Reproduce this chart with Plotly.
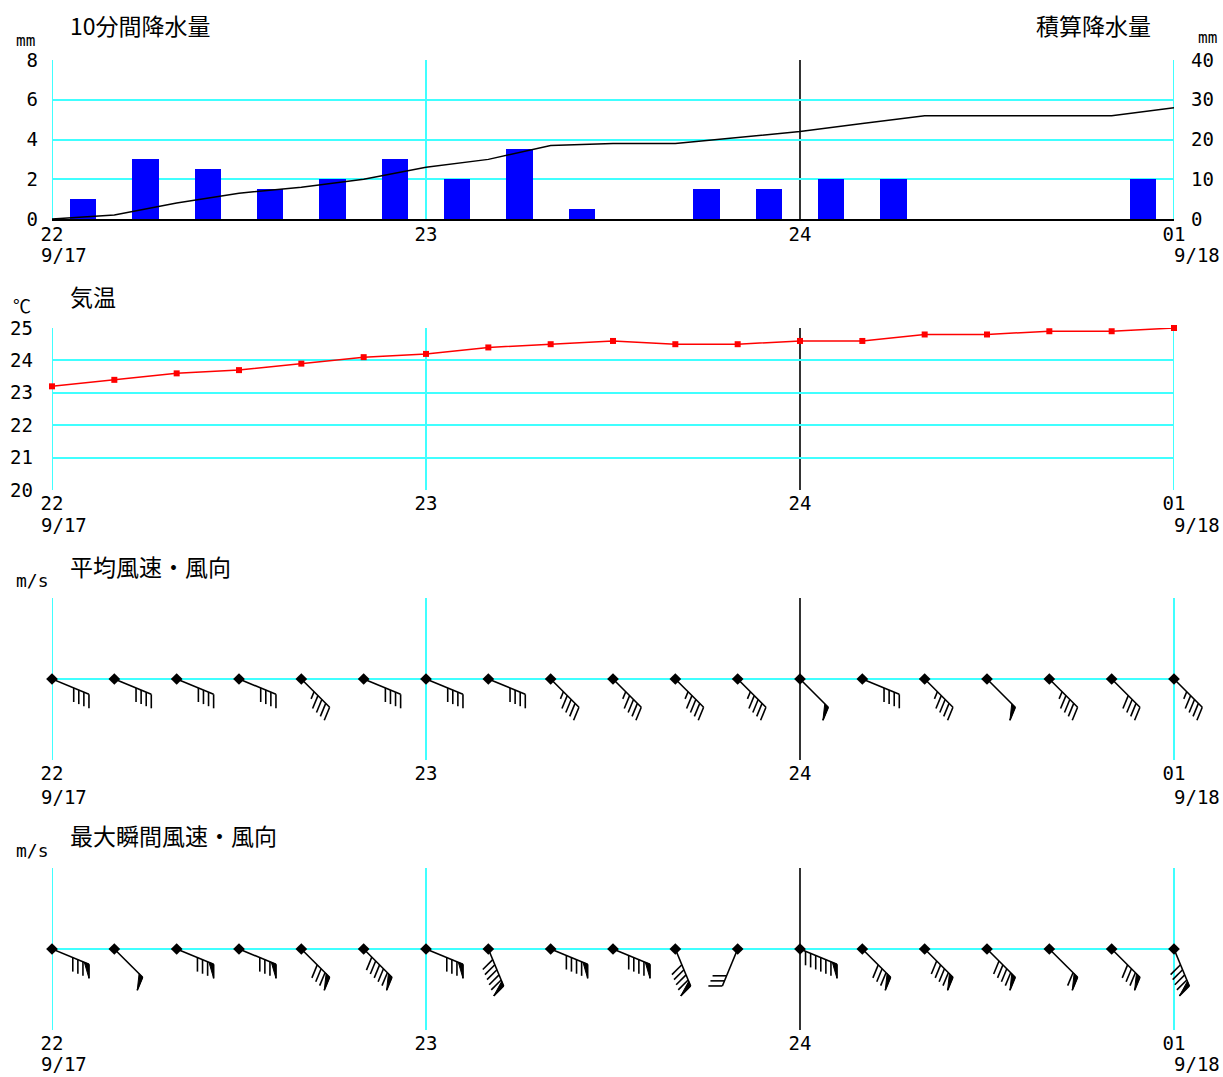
import math
import plotly.graph_objects as go

# ---------------- data ----------------
time_minutes = [0, 10, 20, 30, 40, 50, 60, 70, 80, 90, 100, 110, 120, 130, 140, 150, 160, 170, 180]
x_tick_vals = [0, 60, 120, 180]
x_tick_text = ["22", "23", "24", "01"]
date_start = "9/17"
date_end = "9/18"

rain_interval_start = [0, 10, 20, 30, 40, 50, 60, 70, 80, 90, 100, 110, 120, 130, 140, 150, 160, 170]
rain_interval_end = [10, 20, 30, 40, 50, 60, 70, 80, 90, 100, 110, 120, 130, 140, 150, 160, 170, 180]
rain_10min = [1.0, 3.0, 2.5, 1.5, 2.0, 3.0, 2.0, 3.5, 0.5, 0.0, 1.5, 1.5, 2.0, 2.0, 0.0, 0.0, 0.0, 2.0]
rain_cumulative = [0, 1, 4, 6.5, 8, 10, 13, 15, 18.5, 19, 19, 20.5, 22, 24, 26, 26, 26, 26, 28]
rain_ticks = [0, 2, 4, 6, 8]
cum_ticks = [0, 10, 20, 30, 40]

temperature = [23.2, 23.4, 23.6, 23.7, 23.9, 24.1, 24.2, 24.4, 24.5, 24.6,
               24.5, 24.5, 24.6, 24.6, 24.8, 24.8, 24.9, 24.9, 25.0]
temp_ticks = [20, 21, 22, 23, 24, 25]

mean_dir = ["ESE", "ESE", "ESE", "ESE", "SE", "ESE", "ESE", "ESE", "SE", "SE",
            "SE", "SE", "SE", "ESE", "SE", "SE", "SE", "SE", "SE"]
mean_speed = [8, 8, 8, 8, 9, 8, 8, 8, 9, 9, 9, 9, 10, 8, 9, 10, 9, 8, 9]
gust_dir = ["ESE", "SE", "ESE", "ESE", "SE", "SE", "ESE", "SSE", "ESE", "ESE",
            "SSE", "SSW", "ESE", "SE", "SE", "SE", "SE", "SE", "SSE"]
gust_speed = [16, 10, 16, 16, 16, 20, 16, 20, 18, 18, 18, 6, 22, 16, 18, 18, 12, 16, 18]

COMPASS = {"N": 0, "NNE": 22.5, "NE": 45, "ENE": 67.5, "E": 90, "ESE": 112.5, "SE": 135,
           "SSE": 157.5, "S": 180, "SSW": 202.5, "SW": 225, "WSW": 247.5, "W": 270,
           "WNW": 292.5, "NW": 315, "NNW": 337.5}

# barb coding (m/s): one flag for 10 m/s or more, long feather 2 m/s, short feather 1 m/s
FLAG_VALUE = 10
LONG_VALUE = 2

# ---------------- geometry ----------------
W, H = 1223, 1077
PLOT_L, PLOT_R = 52, 1174
PX_PER_MIN = (PLOT_R - PLOT_L) / 180.0
WIND_XMAX = 180 * (W - PLOT_L) / (PLOT_R - PLOT_L)   # wind panels extend to the page edge


def px_x(p):
    return p / W


def px_y(p):
    return 1 - p / H


CYAN = "#40FFFF"
FONT = "Noto Sans CJK JP"
MONO = "DejaVu Sans Mono"

SHAFT = 40.0
SPACING = 5.5
FEATHER = 14.0
PENNANT_W = 5.0
PENNANT_L = 14.0


def barbs(times, dirs, speeds):
    lx, ly, px_, py_ = [], [], [], []
    for t, d, s in zip(times, dirs, speeds):
        D = math.radians(COMPASS[d])
        ux, uy = math.sin(D), math.cos(D)
        F = math.radians(COMPASS[d] + 67.5)
        fx, fy = math.sin(F), math.cos(F)

        def P(r, extra=0.0):
            return (t + (ux * r + fx * extra) / PX_PER_MIN, uy * r + fy * extra)

        a, b = P(0), P(SHAFT)
        lx += [a[0], b[0], None]
        ly += [a[1], b[1], None]
        pen = 1 if s >= FLAG_VALUE else 0
        rem = s - pen * FLAG_VALUE
        longs = int(rem // LONG_VALUE)
        shorts = int(round(rem - longs * LONG_VALUE))
        pos = SHAFT
        for _ in range(pen):
            p1, p2, p3 = P(pos), P(pos - PENNANT_W), P(pos, PENNANT_L)
            px_ += [p1[0], p2[0], p3[0], p1[0], None]
            py_ += [p1[1], p2[1], p3[1], p1[1], None]
            lx += [p1[0], p3[0], None]
            ly += [p1[1], p3[1], None]
            pos -= PENNANT_W + 1.5
        for _ in range(longs):
            p1, p2 = P(pos), P(pos, FEATHER)
            lx += [p1[0], p2[0], None]
            ly += [p1[1], p2[1], None]
            pos -= SPACING
        for _ in range(shorts):
            p1, p2 = P(pos), P(pos, FEATHER * 0.55)
            lx += [p1[0], p2[0], None]
            ly += [p1[1], p2[1], None]
            pos -= SPACING
    return lx, ly, px_, py_


fig = go.Figure()

# rain bars
rain_mid = [(a + b) / 2 for a, b in zip(rain_interval_start, rain_interval_end)]
fig.add_trace(go.Bar(x=rain_mid, y=rain_10min, width=4.2, marker=dict(color="#0000FF", line=dict(width=0)),
                     xaxis="x", yaxis="y"))
fig.add_trace(go.Scatter(x=time_minutes, y=rain_cumulative, mode="lines",
                         line=dict(color="black", width=1.5), xaxis="x", yaxis="y2"))

# temperature
fig.add_trace(go.Scatter(x=time_minutes, y=temperature, mode="lines+markers",
                         line=dict(color="#FF0000", width=1.5),
                         marker=dict(symbol="square", size=6, color="#FF0000"),
                         cliponaxis=False, xaxis="x2", yaxis="y3"))

# winds
for xa, ya, dirs, spd in [("x3", "y4", mean_dir, mean_speed), ("x4", "y5", gust_dir, gust_speed)]:
    lx, ly, pxs, pys = barbs(time_minutes, dirs, spd)
    fig.add_trace(go.Scatter(x=lx, y=ly, mode="lines", line=dict(color="black", width=1.6),
                             xaxis=xa, yaxis=ya))
    if pxs:
        fig.add_trace(go.Scatter(x=pxs, y=pys, mode="lines", fill="toself", fillcolor="black",
                                 line=dict(color="black", width=1), xaxis=xa, yaxis=ya))
    fig.add_trace(go.Scatter(x=time_minutes, y=[0] * len(time_minutes), mode="markers",
                             marker=dict(symbol="diamond", size=9, color="black"),
                             cliponaxis=False, xaxis=xa, yaxis=ya))

xdom = [px_x(PLOT_L), px_x(PLOT_R)]
xdom_wind = [px_x(PLOT_L), 1.0]
tickfont = dict(family=MONO, size=19, color="black")

xcommon = dict(tickvals=x_tick_vals, ticktext=x_tick_text, automargin=False,
               showgrid=False, zeroline=False, ticks="", tickfont=tickfont, fixedrange=True)
ycommon = dict(automargin=False, ticks="", tickfont=tickfont, zeroline=False, fixedrange=True)

layout = dict(
    template="none",
    width=W, height=H, margin=dict(l=0, r=0, t=0, b=0, pad=0),
    paper_bgcolor="white", plot_bgcolor="rgba(0,0,0,0)", showlegend=False, bargap=0,
    xaxis=dict(xcommon, domain=xdom, range=[0, 180], anchor="y", showline=True,
               linecolor="black", linewidth=2, ticklabelstandoff=-3),
    yaxis=dict(ycommon, domain=[px_y(219), px_y(60)], range=[0, 8], tickvals=rain_ticks,
               showgrid=True, gridcolor=CYAN, gridwidth=2, ticklabelstandoff=13),
    yaxis2=dict(ycommon, overlaying="y", side="right", anchor="x", range=[0, 40], tickvals=cum_ticks,
                showgrid=False, ticklabelstandoff=16),
    xaxis2=dict(xcommon, domain=xdom, range=[0, 180], anchor="y3", showline=False, ticklabelstandoff=0),
    yaxis3=dict(ycommon, domain=[px_y(490), px_y(328)], range=[20, 25], tickvals=temp_ticks,
                showgrid=True, gridcolor=CYAN, gridwidth=2, ticklabelstandoff=18),
    xaxis3=dict(xcommon, domain=xdom_wind, range=[0, WIND_XMAX], anchor="y4", showline=False,
                ticklabelstandoff=0),
    yaxis4=dict(ycommon, domain=[px_y(760), px_y(598)], range=[-81, 81], showgrid=False,
                showticklabels=False),
    xaxis4=dict(xcommon, domain=xdom_wind, range=[0, WIND_XMAX], anchor="y5", showline=False,
                ticklabelstandoff=0),
    yaxis5=dict(ycommon, domain=[px_y(1030), px_y(868)], range=[-81, 81], showgrid=False,
                showticklabels=False),
)

shapes = []
for (xa, ya) in [("x", "y"), ("x2", "y3"), ("x3", "y4"), ("x4", "y5")]:
    for v in x_tick_vals:
        col = "black" if v == 120 else CYAN
        wdt = 1.6 if v == 120 else 2
        shapes.append(dict(type="line", xref=xa, yref=ya + " domain", x0=v, x1=v, y0=0, y1=1,
                           line=dict(color=col, width=wdt), layer="below"))
for (xa, ya) in [("x3", "y4"), ("x4", "y5")]:
    shapes.append(dict(type="line", xref=xa, yref=ya, x0=x_tick_vals[0], x1=x_tick_vals[-1], y0=0, y1=0,
                       line=dict(color=CYAN, width=2), layer="below"))
layout["shapes"] = shapes

ann = []


def text(s, x, y, size, anchor="left", family=FONT, yanchor="middle"):
    ann.append(dict(text=s, x=px_x(x), y=px_y(y), xref="paper", yref="paper", showarrow=False,
                    xanchor=anchor, yanchor=yanchor, font=dict(family=family, size=size, color="black")))


text("10分間降水量", 68, 25, 23)
text("積算降水量", 1153, 25, 23, "right")
text("mm", 25, 40, 16, "center", MONO)
text("mm", 1207, 38, 16, "center", MONO)
text("気温", 68, 296, 23)
text("℃", 22, 305, 18, "center")
text("平均風速・風向", 68, 566, 23)
text("m/s", 32, 580, 18, "center", MONO)
text("最大瞬間風速・風向", 68, 835, 23)
text("m/s", 32, 850, 18, "center", MONO)

for ylab in [255, 525, 797]:
    text(date_start, 39, ylab, 19, family=MONO)
    text(date_end, 1172, ylab, 19, family=MONO)
text(date_start, 39, 1077, 19, family=MONO, yanchor="bottom")
text(date_end, 1172, 1077, 19, family=MONO, yanchor="bottom")

layout["annotations"] = ann
fig.update_layout(**layout)
fig.write_html("out.html")
